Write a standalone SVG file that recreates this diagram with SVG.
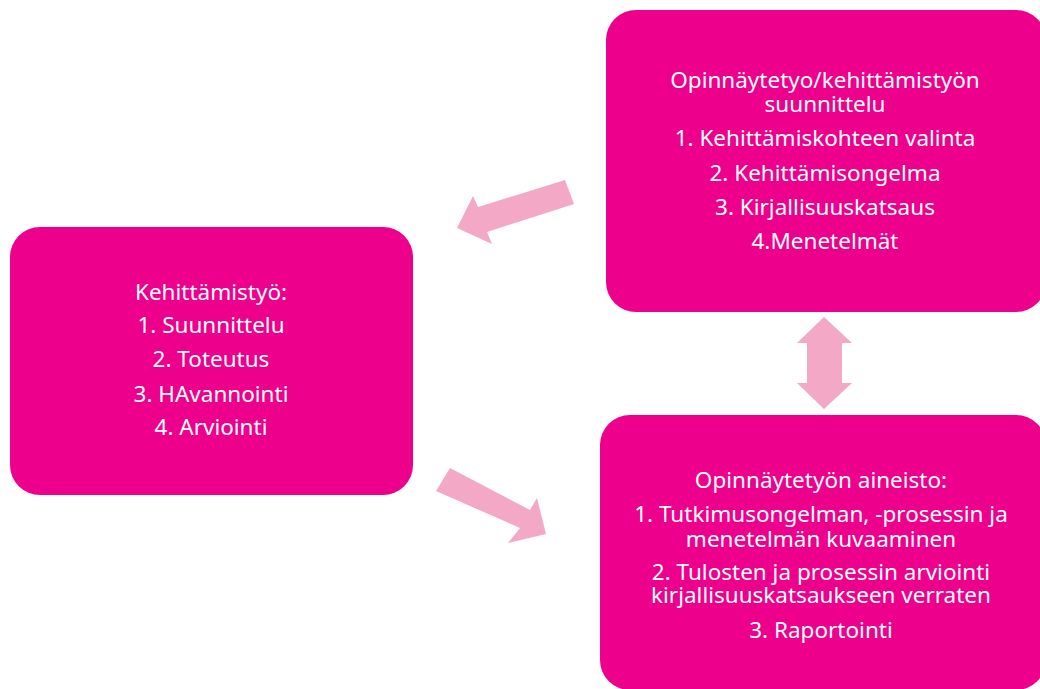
<svg xmlns="http://www.w3.org/2000/svg" width="1040" height="689" viewBox="0 0 1040 689">
<style>
.box{fill:#EC008C}
.arrow{fill:#F3A8C6}
text{font-family:"Noto Sans","DejaVu Sans",sans-serif;font-size:22.5px;fill:#FFFFFF;text-anchor:middle}
</style>
<rect width="1040" height="689" fill="#FFFFFF"/>
<g id="connectors">
<polygon class="arrow" points="565,180 574,204 487,232 492,244 457,228 473,196 478,207"/>
<polygon class="arrow" points="450,468 530,510 537,498 546,534 508,543 520,528 436,491"/>
<polygon class="arrow" points="824,317 852,343 842,343 842,383 852,383 824,409 797,383 807,383 807,343 797,343"/>
</g>
<g id="node-suunnittelu">
<rect class="box" x="606" y="10" width="440" height="302" rx="30"/>
<text x="825" y="88">Opinnäytetyo/kehittämistyön</text>
<text x="825" y="112">suunnittelu</text>
<text x="825" y="146">1. Kehittämiskohteen valinta</text>
<text x="825" y="181">2. Kehittämisongelma</text>
<text x="825" y="215">3. Kirjallisuuskatsaus</text>
<text x="825" y="249">4.Menetelmät</text>
</g>
<g id="node-kehittamistyo">
<rect class="box" x="10" y="227" width="403" height="268" rx="30"/>
<text x="211" y="300">Kehittämistyö:</text>
<text x="211" y="333">1. Suunnittelu</text>
<text x="211" y="367">2. Toteutus</text>
<text x="211" y="402">3. HAvannointi</text>
<text x="211" y="435">4. Arviointi</text>
</g>
<g id="node-aineisto">
<rect class="box" x="600" y="415" width="446" height="275" rx="30"/>
<text x="821" y="488">Opinnäytetyön aineisto:</text>
<text x="821" y="522">1. Tutkimusongelman, -prosessin ja</text>
<text x="821" y="547">menetelmän kuvaaminen</text>
<text x="821" y="580">2. Tulosten ja prosessin arviointi</text>
<text x="821" y="603">kirjallisuuskatsaukseen verraten</text>
<text x="821" y="638">3. Raportointi</text>
</g>
</svg>
